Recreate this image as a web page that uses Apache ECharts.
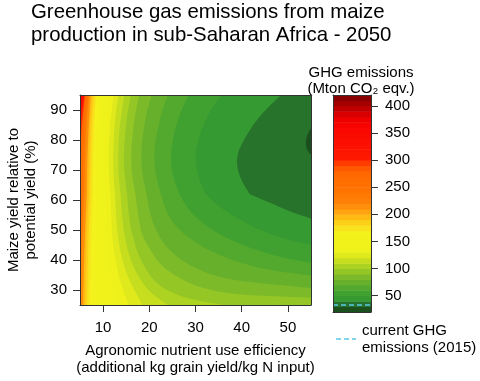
<!DOCTYPE html>
<html><head><meta charset="utf-8">
<script src="https://cdn.jsdelivr.net/npm/echarts@6/dist/echarts.min.js"></script>
<style>html,body{margin:0;padding:0;background:#fff}#c{width:480px;height:381px}</style>
</head><body><div id="c"></div>
<script>
// ---------- data ----------
const xRange = [5, 55];
const yRange = [25, 95];
const xTicks = [10, 20, 30, 40, 50];
const yTicks = [30, 40, 50, 60, 70, 80, 90];
const scaleRange = [20, 420];
const scaleTicks = [50, 100, 150, 200, 250, 300, 350, 400];
const bandLows = [20,30,40,50,60,70,80,90,100,110,120,130,140,150,160,170,180,190,200,210,220,230,240,250,260,270,280,290,300,310,320,330,340,350,360,370,380,390,400,410];
const currentGHG = 33;
const kinkYield = 62;

// contour lines [NUE, yield %], one array per level
const c30 = [[55,84],[54.3,82],[53.9,79.5],[54.1,77],[55,75]];
const c40 = [[48.5,95],[44,88],[40.5,80],[39,74],[39.6,68],[41.7,62],[45,59.8],[50,56.5],[55,53.8]];
const c50 = [[35.5,95],[32.6,88],[30.6,80],[30,74],[30.6,68],[32.2,62],[35,58],[39,54],[44,50],[49.5,47],[55,45]];
const c60 = [[28.5,95],[26.5,88],[25.1,80],[24.7,74],[25.2,68],[26.5,62],[28.5,57],[31.5,52.5],[36,48],[42,44],[48.5,41],[55,39]];
const c70 = [[24,95],[22.5,88],[21.4,80],[21.1,74],[21.5,68],[22.5,62],[23.8,56],[26,51],[29.5,46.5],[34,42.5],[40,39],[47,36.5],[55,34.8]];
const c80 = [[20.5,95],[19.3,88],[18.5,80],[18.3,74],[18.6,68],[19.4,62],[20.3,55],[21.8,49],[24,44],[27.5,39.5],[32,36],[38,33.5],[46,32],[55,30.7]];
const c90 = [[17.8,95],[16.9,88],[16.3,80],[16.1,74],[16.3,68],[17,62],[17.6,55],[18.6,48],[20.8,42],[22.5,38.5],[25.5,35],[30,31.5],[37,29],[46,28],[55,27.4]];
const c100 = [[16,95],[15.2,88],[14.7,80],[14.5,74],[14.7,68],[15.2,62],[15.6,55],[16.4,48],[18.2,40],[21.2,33],[24.5,29.5],[29,27],[36,25]];
const c110 = [[14.6,95],[13.9,88],[13.4,80],[13.3,74],[13.4,68],[13.8,62],[14.1,55],[14.7,48],[16,40],[18.3,33],[20.5,29],[24,25]];
const c120 = [[13.3,95],[12.7,88],[12.3,80],[12.2,74],[12.3,68],[12.6,62],[12.8,55],[13.2,48],[14.2,40],[15.8,33],[18.5,25]];
const c130 = [[12.3,95],[11.7,88],[11.3,80],[11.2,74],[11.3,68],[11.6,62],[11.75,55],[12,48],[12.7,40],[13.7,33],[15.5,25]];
const c140 = [[11.2,95],[10.7,88],[10.4,80],[10.3,74],[10.3,68],[10.5,62],[10.6,55],[10.8,48],[11.3,40],[12,33],[13.2,25]];
const c150 = [[10.3,95],[9.8,88],[9.5,80],[9.4,74],[9.4,68],[9.5,62],[9.55,55],[9.7,48],[10,40],[10.5,33],[11.3,25]];
const c160 = [[9.4,95],[9,88],[8.7,80],[8.6,74],[8.6,68],[8.6,62],[8.5,55],[8.4,48],[8.3,40],[8.3,25]];
const c170 = [[8.6,95],[8.2,88],[7.95,80],[7.85,74],[7.8,68],[7.75,62],[7.5,50],[7.3,40],[7.1,25]];
const c180 = [[8.1,95],[7.75,88],[7.5,80],[7.4,74],[7.3,68],[7.25,62],[6.95,50],[6.75,40],[6.5,25]];
const c190 = [[7.7,95],[7.35,88],[7.1,80],[7,74],[6.9,68],[6.85,62],[6.5,50],[6.3,40],[6.05,25]];
const c200 = [[7.3,95],[7,88],[6.75,80],[6.6,74],[6.5,68],[6.45,62],[6.1,50],[5.9,40],[5.65,25]];
const c220 = [[6.9,95],[6.55,88],[6.25,80],[6.1,74],[6,68],[5.9,62],[5.55,50],[5.35,40],[5.15,25]];
const c240 = [[6.6,95],[6.2,88],[5.9,80],[5.7,74],[5.6,68],[5.5,62],[5.2,50],[5,42]];
const c260 = [[6.3,95],[5.85,88],[5.5,80],[5.3,74],[5.15,68],[5,60]];
const c280 = [[6.1,95],[5.6,88],[5.2,80],[5,76]];
const c300 = [[5.95,95],[5.4,88],[5,82]];
const c320 = [[5.75,95],[5.3,90],[5,86.5]];
const c340 = [[5.6,95],[5.2,91.5],[5,89.5]];
const c360 = [[5.45,95],[5,91.5]];
const c380 = [[5.3,95],[5,93]];
const c400 = [[5.15,95],[5,94]];
const contourLevels = [400,380,360,340,320,300,280,260,240,220,200,190,180,170,160,150,140,130,120,110,100,90,80,70,60,50,40,30];
const contourPaths = {30:c30,40:c40,50:c50,60:c60,70:c70,80:c80,90:c90,100:c100,110:c110,120:c120,130:c130,140:c140,150:c150,160:c160,170:c170,180:c180,190:c190,200:c200,220:c220,240:c240,260:c260,280:c280,300:c300,320:c320,340:c340,360:c360,380:c380,400:c400};

// ---------- styling ----------
const FONT = 'Liberation Sans, Arial, Helvetica, sans-serif';
const paletteStops = [
  [20,'#1c4f1e'],[30,'#27732b'],[40,'#349a31'],[50,'#41a130'],[60,'#52a92e'],[70,'#66b02c'],
  [80,'#7cba2a'],[90,'#94c626'],[100,'#acd222'],[110,'#c6de1e'],[120,'#e0e91b'],[130,'#eef21a'],
  [160,'#f4f21c'],[170,'#f8e41c'],[180,'#fdd018'],[190,'#ffba14'],[200,'#ffa410'],[210,'#ff8e0a'],
  [220,'#ff8006'],[240,'#ff7400'],[270,'#ff6800'],[280,'#ff5800'],[290,'#ff3c00'],[300,'#ff1800'],
  [360,'#f80400'],[370,'#ee0000'],[380,'#d80000'],[390,'#c00000'],[400,'#a40000'],[410,'#880000']
];
function hex2rgb(h){return [parseInt(h.substr(1,2),16),parseInt(h.substr(3,2),16),parseInt(h.substr(5,2),16)];}
function bandColor(lo){
  if (lo <= paletteStops[0][0]) return paletteStops[0][1];
  for (let i=1;i<paletteStops.length;i++){
    if (lo <= paletteStops[i][0]){
      const [a,ca]=paletteStops[i-1],[b,cb]=paletteStops[i];
      const t=(lo-a)/(b-a), A=hex2rgb(ca), B=hex2rgb(cb);
      return 'rgb('+A.map((v,k)=>Math.round(v+(B[k]-v)*t)).join(',')+')';
    }
  }
  return paletteStops[paletteStops.length-1][1];
}
// region below a contour level: contour + plot-edge corners; corners/kinks doubled so smoothing keeps them sharp
function regionPolygon(path){
  const pts = [];
  path.forEach((p,i)=>{
    pts.push(p);
    if (i===0 || i===path.length-1 || p[1]===kinkYield) pts.push(p);
  });
  const s = path[0], e = path[path.length-1];
  const add = p => { pts.push(p); pts.push(p); };
  if (e[0] === xRange[0]) { add([xRange[0], yRange[0]]); add([xRange[1], yRange[0]]); }
  else if (e[1] === yRange[0]) { add([xRange[1], yRange[0]]); }
  if (s[1] === yRange[1]) add([xRange[1], yRange[1]]);
  return pts;
}
const fullRect = [[xRange[0],yRange[1]],[xRange[0],yRange[0]],[xRange[1],yRange[0]],[xRange[1],yRange[1]]];

const axisColor = '#333';
const chart = echarts.init(document.getElementById('c'), null, {renderer:'canvas'});
const lineOnly = {axisLine:{show:true,onZero:false,lineStyle:{color:axisColor,width:1}},axisTick:{show:false},axisLabel:{show:false},splitLine:{show:false},z:10};

chart.setOption({
  animation:false,
  backgroundColor:'#fff',
  textStyle:{fontFamily:FONT},
  title:{text:'Greenhouse gas emissions from maize\nproduction in sub-Saharan Africa - 2050',left:31,top:1,padding:0,
    textStyle:{fontSize:20.4,fontWeight:'normal',color:'#000',lineHeight:23,fontFamily:FONT}},
  grid:[
    {left:80,top:95,width:231,height:216},
    {left:333,top:95,width:38,height:217}
  ],
  xAxis:[
    {gridIndex:0,type:'value',min:xRange[0],max:xRange[1],position:'bottom',
     axisLine:{show:true,onZero:false,lineStyle:{color:axisColor}},
     axisTick:{show:true,customValues:xTicks,length:7,lineStyle:{color:axisColor}},
     axisLabel:{customValues:xTicks,fontSize:15,color:'#000',margin:15,fontFamily:FONT},
     splitLine:{show:false},
     name:'Agronomic nutrient use efficiency\n(additional kg grain yield/kg N input)',
     nameLocation:'middle',nameGap:37,
     nameTextStyle:{fontSize:15,color:'#000',lineHeight:17,fontFamily:FONT},z:10},
    Object.assign({gridIndex:0,type:'value',min:xRange[0],max:xRange[1],position:'top'},lineOnly),
    Object.assign({gridIndex:1,type:'value',min:0,max:1,position:'bottom'},lineOnly),
    Object.assign({gridIndex:1,type:'value',min:0,max:1,position:'top'},lineOnly)
  ],
  yAxis:[
    {gridIndex:0,type:'value',min:yRange[0],max:yRange[1],position:'left',
     axisLine:{show:true,onZero:false,lineStyle:{color:axisColor}},
     axisTick:{show:true,customValues:yTicks,length:7,lineStyle:{color:axisColor}},
     axisLabel:{customValues:yTicks,fontSize:15,color:'#000',margin:13,fontFamily:FONT},
     splitLine:{show:false},
     name:'Maize yield relative to\npotential yield (%)',nameLocation:'middle',nameGap:41,nameRotate:90,
     nameTextStyle:{fontSize:15,color:'#000',lineHeight:17,fontFamily:FONT},z:10},
    Object.assign({gridIndex:0,type:'value',min:yRange[0],max:yRange[1],position:'right'},lineOnly),
    {gridIndex:1,type:'value',min:scaleRange[0],max:scaleRange[1],position:'right',
     axisLine:{show:true,onZero:false,lineStyle:{color:axisColor}},
     axisTick:{show:true,customValues:scaleTicks,length:7,lineStyle:{color:axisColor}},
     axisLabel:{customValues:scaleTicks,fontSize:15,color:'#000',margin:14,fontFamily:FONT},
     splitLine:{show:false},z:10},
    Object.assign({gridIndex:1,type:'value',min:scaleRange[0],max:scaleRange[1],position:'left'},lineOnly)
  ],
  series:[
    {type:'custom',xAxisIndex:0,yAxisIndex:0,clip:true,silent:true,
     encode:{x:0,y:1},
     data:[[xRange[0],yRange[0],scaleRange[1]]].concat(contourLevels.map(l=>[xRange[0],yRange[0],l])),
     renderItem:function(params,api){
       const lvl = api.value(2);
       const poly = lvl >= scaleRange[1] ? fullRect : regionPolygon(contourPaths[lvl]);
       return {type:'polygon',shape:{points:poly.map(p=>api.coord(p)),smooth:lvl >= scaleRange[1] ? 0 : 0.35},
               style:{fill:bandColor(lvl-10)}};
     }},
    {type:'custom',xAxisIndex:2,yAxisIndex:2,silent:true,encode:{x:0,y:1},
     data:bandLows.map(lo=>[0,lo]),
     renderItem:function(params,api){
       const lo = api.value(1);
       const p0 = api.coord([0,lo+10]), p1 = api.coord([1,lo]);
       return {type:'rect',shape:{x:p0[0],y:p0[1],width:p1[0]-p0[0],height:p1[1]-p0[1]+0.5},style:{fill:bandColor(lo)}};
     }},
    {type:'line',xAxisIndex:2,yAxisIndex:2,silent:true,symbol:'none',z:5,
     data:[[0,currentGHG],[1,currentGHG]],
     lineStyle:{color:'#5bc8e6',width:1.5,type:[5,3]}}
  ],
  graphic:[
    {type:'text',x:361,y:65,style:{text:'GHG emissions\n(Mton CO₂ eqv.)',textAlign:'center',textVerticalAlign:'top',
      fontSize:15,lineHeight:16,fill:'#000',fontFamily:FONT}},
    {type:'line',shape:{x1:336,y1:339,x2:356,y2:339},style:{stroke:'#5bc8e6',lineWidth:1.5,lineDash:[5,3]}},
    {type:'text',x:362,y:322,style:{text:'current GHG\nemissions (2015)',textAlign:'left',textVerticalAlign:'top',
      fontSize:15,lineHeight:17,fill:'#000',fontFamily:FONT}}
  ]
});
</script></body></html>
